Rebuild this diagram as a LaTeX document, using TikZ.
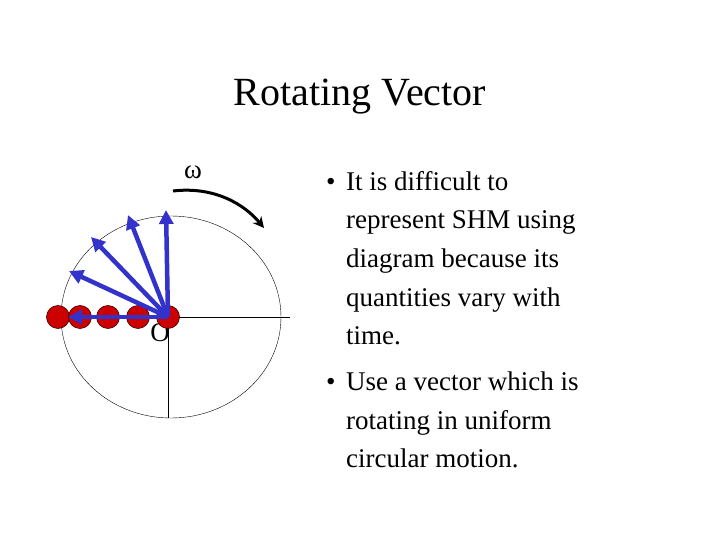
\documentclass[tikz,border=0pt]{standalone}
\usepackage{fontspec}
\setmainfont{Liberation Serif}
\usetikzlibrary{arrows.meta}
\definecolor{vblue}{RGB}{51,51,204}
\definecolor{dred}{RGB}{204,0,0}
\begin{document}
\begin{tikzpicture}[x=1pt,y=-1pt,
  vec/.style={vblue,line width=4.5pt,-{Triangle[length=14pt,width=14pt]}},
  dot/.style={circle,fill=dred,draw=black!70!dred,line width=0.6pt,minimum size=23pt,inner sep=0pt},
  txt/.style={anchor=base west,font=\fontsize{27}{27}\selectfont,inner sep=0pt}]
\useasboundingbox (0,0) rectangle (720,540);
\node[font=\fontsize{40}{40}\selectfont] (title) at (360,97) {Rotating Vector};
\draw[thin] (171,317) ellipse (110 and 101);
\coordinate (O) at (168,317);
\coordinate (E) at (290,317);
\coordinate (S) at (168,418);
\draw[thin] (O) -- (E);
\draw[thin] (O) -- (S);
\node[font=\fontsize{27}{27}\selectfont,inner sep=0pt] (Olab) at (160,333) {O};
\node[dot] (d1) at (58,317) {};
\node[dot] (d2) at (80,317) {};
\node[dot] (d3) at (108,317) {};
\node[dot] (d4) at (138,317) {};
\node[dot] (d5) at (168,317) {};
\coordinate (t1) at (166,210);
\coordinate (t2) at (128,215);
\coordinate (t3) at (91,237);
\coordinate (t4) at (69,271);
\coordinate (t5) at (68,317);
\foreach \t in {t1,t2,t3,t4,t5} \draw[vec] (O) -- (\t);
\node[font=\fontsize{27}{27}\selectfont,inner sep=0pt] (w) at (193,172) {ω};
\coordinate (a1) at (173,191);
\coordinate (a2) at (264,228);
\draw[line width=3pt,-{Stealth[length=11pt,width=11pt]}] (a1) .. controls (215,186) and (245,205) .. (a2);
\foreach \y/\s in {182/{It is difficult to},220/{represent SHM using},258/{diagram because its},297/{quantities vary with},335/{time.},381/{Use a vector which is},420/{rotating in uniform},458/{circular motion.}}
  \node[txt] at (346,\y+9) {\s};
\node[txt] (b1) at (326,191) {•};
\node[txt] (b2) at (326,390) {•};
\end{tikzpicture}
\end{document}
